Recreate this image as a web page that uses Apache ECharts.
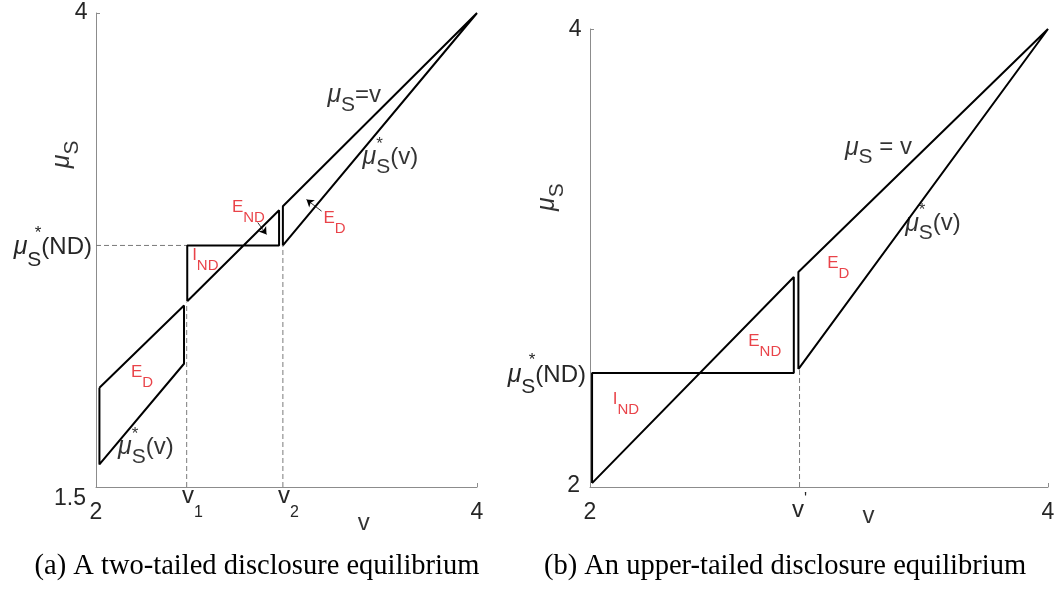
<!DOCTYPE html>
<html>
<head>
<meta charset="utf-8">
<script src="https://cdn.jsdelivr.net/npm/echarts@6/dist/echarts.min.js"></script>
<style>html,body{margin:0;padding:0;background:#fff}#c{width:1055px;height:594px}</style>
</head>
<body>
<div id="c"></div>
<script>
// ---------------- data (v, mu_S) ----------------
const leftXTicks = [2, 2.477, 2.981, 4];
const leftXTickLabels = ['2', 'v_1', 'v_2', '4'];
const leftYTicks = [1.5, 2.774, 4];
const leftYTickLabels = ['1.5', 'mu*_S(ND)', '4'];
const rightXTicks = [2, 2.915, 4];
const rightXTickLabels = ['2', "v'", '4'];
const rightYTicks = [2, 2.498, 4];
const rightYTickLabels = ['2', 'mu*_S(ND)', '4'];

// left panel (two-tailed)
const leftLowerRegion = [[2.018, 2.023], [2.462, 2.457], [2.462, 2.150], [2.018, 1.619], [2.018, 2.023]];
const leftMiddleRegion = [[2.479, 2.480], [2.479, 2.774], [2.961, 2.774], [2.961, 2.960], [2.479, 2.480]];
const leftUpperRegion = [[2.981, 2.774], [2.981, 2.981], [4, 4], [2.981, 2.774]];
const leftGuides = [
  [[2, 2.774], [2.479, 2.774]],
  [[2.476, 1.5], [2.476, 2.473]],
  [[2.981, 1.5], [2.981, 2.774]]
];
const leftArrows = [
  [[2.849, 2.895], [2.895, 2.832]],
  [[3.184, 2.955], [3.105, 3.016]]
];
// right panel (upper-tailed)
const rightLowerRegion = [[2.009, 2.017], [2.009, 2.498], [2.890, 2.498], [2.890, 2.917], [2.009, 2.017]];
const rightUpperRegion = [[2.910, 2.515], [2.910, 2.939], [4, 4], [2.910, 2.515]];
const rightGuides = [
  [[2.915, 2.0], [2.915, 2.515]]
];

// annotations: [text, v, mu]
const leftNotes = [['mu_S=v', 3.212, 3.565], ['mu*_S(v)', 3.396, 3.238], ['mu*_S(v)', 2.113, 1.711]];
const leftRedNotes = [['E_ND', 2.711, 2.977], ['E_D', 3.191, 2.916], ['I_ND', 2.502, 2.721], ['E_D', 2.181, 2.107]];
const rightNotes = [['mu_S = v', 3.111, 3.482], ['mu*_S(v)', 3.374, 3.150]];
const rightRedNotes = [['E_D', 3.034, 2.975], ['E_ND', 2.689, 2.636], ['I_ND', 2.097, 2.383]];
const leftXName = [['v', 3.406, 1.307]];
const leftYName = [['mu_S', 1.824, 3.254]];
const rightXName = [['v', 3.216, 1.870]];
const rightYName = [['mu_S', 1.813, 3.266]];

const captions = ['(a) A two-tailed disclosure equilibrium', '(b) An upper-tailed disclosure equilibrium'];

// ---------------- styling helpers ----------------
const SANS = '"Liberation Sans", Arial, sans-serif';
const AX = '#8c8c8c';
const TXT = '#262626';
const RED = '#e3141b';
const H = 80;
function tok(fs, dy, o) {
  o = o || {};
  const s = {
    fontFamily: SANS, fontSize: fs, height: fs, color: o.color || '#000',
    padding: [H / 2 + dy - fs / 2, o.pr || 0, H / 2 - dy - fs / 2, o.pl || 0]
  };
  if (o.italic) s.fontStyle = 'italic';
  if (o.w0) s.width = 0;
  return s;
}
function richify(s, P, starAfter) {
  let out = '';
  if (s.startsWith('mu')) {
    out += '{' + P + 'mu|\u03bc}';
    s = s.slice(2);
    let star = false;
    if (s[0] === '*') { star = true; s = s.slice(1); }
    if (s.startsWith('_S')) {
      if (star && !starAfter) out += '{' + P + 'star|*}';
      out += '{' + P + 'S|S}';
      if (star && starAfter) out += '{' + P + 'star|*}';
      s = s.slice(2);
    }
    if (s) out += '{' + P + 't|' + s + '}';
    return out;
  }
  const m = s.match(/^(.)_(.+)$/);
  if (m) return '{' + P + 'm|' + m[1] + '}{' + P + 's|' + m[2] + '}';
  if (s.endsWith("'")) return '{' + P + 'w|' + s.slice(0, -1) + "}{" + P + "p|'}";
  return '{' + P + 'n|' + s + '}';
}
function pick(val, ticks, labels) {
  let b = 0;
  for (let i = 1; i < ticks.length; i++) if (Math.abs(ticks[i] - val) < Math.abs(ticks[b] - val)) b = i;
  return labels[b];
}

const richX = {
  xn: tok(23, 25.5, {color: TXT}),
  xm: tok(24, 9.5, {color: TXT, pl: 11}),
  xs: tok(16, 25.5, {color: TXT}),
  xw: tok(24, 23, {color: TXT}),
  xp: tok(16, 12.5, {color: TXT})
};
function richY(P, bottomDy, topDy) {
  const r = {};
  r[P + 'n'] = tok(23, topDy, {color: TXT, pr: 5.5});
  r[P + 'b'] = tok(23, bottomDy, {color: TXT, pr: 7});
  r[P + 'mu'] = tok(25, 2, {color: TXT, italic: true});
  r[P + 'star'] = tok(17, -12.5, {color: TXT, w0: true});
  r[P + 'S'] = tok(21, 14.5, {color: TXT});
  r[P + 't'] = tok(24, 2, {color: TXT, pr: 1});
  return r;
}
const richNotes = {
  mmu: tok(25, 0, {italic: true}),
  mstar: tok(17, -13, {w0: true}),
  mS: tok(21, 10),
  mt: tok(24, 0),
  mn: tok(24, 0),
  rm: tok(17, 0, {color: RED}),
  rs: tok(15, 10.5, {color: RED})
};

function xAxisFor(gi, ticks, labels) {
  return {
    type: 'value', gridIndex: gi, min: 2, max: 4,
    axisLine: {show: true, lineStyle: {color: AX, width: 1}},
    splitLine: {show: false},
    axisTick: {show: true, inside: true, length: 4, lineStyle: {color: AX}, customValues: [4]},
    axisLabel: {
      show: true, margin: 0, verticalAlign: 'middle', showMinLabel: true, showMaxLabel: true,
      customValues: ticks,
      formatter: v => richify(pick(v, ticks, labels), 'x'),
      rich: richX
    }
  };
}
function yAxisFor(gi, min, ticks, labels, P, bottomDy, topDy) {
  return {
    type: 'value', gridIndex: gi, min: min, max: 4,
    axisLine: {show: true, lineStyle: {color: AX, width: 1}},
    splitLine: {show: false},
    axisTick: {show: true, inside: true, length: 4, lineStyle: {color: AX}, customValues: [4]},
    axisLabel: {
      show: true, margin: 3, showMinLabel: true, showMaxLabel: true,
      customValues: ticks,
      formatter: v => {
        const s = pick(v, ticks, labels);
        if (Math.abs(v - min) < 1e-9) return '{' + P + 'b|' + s + '}';
        return richify(s, P, true);
      },
      rich: richY(P, bottomDy, topDy)
    }
  };
}

function poly(gi, pts) {
  return {type: 'line', xAxisIndex: gi, yAxisIndex: gi, data: pts, symbol: 'none', clip: false, z: 4,
    lineStyle: {color: '#000', width: 2}, silent: true};
}
function guide(gi, pts) {
  return {type: 'line', xAxisIndex: gi, yAxisIndex: gi, data: pts, symbol: 'none', clip: false, z: 2,
    lineStyle: {color: '#7a7a7a', width: 1, type: [5, 3]}, silent: true};
}
function arrows(gi, list) {
  return {type: 'lines', coordinateSystem: 'cartesian2d', xAxisIndex: gi, yAxisIndex: gi, z: 5,
    symbol: ['none', 'arrow'], symbolSize: 7, silent: true,
    lineStyle: {color: '#000', width: 0.8, opacity: 1, curveness: 0},
    data: list.map(c => ({coords: c}))};
}
function notes(gi, list, P, position, rotate) {
  return {type: 'scatter', xAxisIndex: gi, yAxisIndex: gi, clip: false, symbolSize: 1, z: 10, silent: true,
    itemStyle: {color: 'rgba(0,0,0,0)'},
    data: list.map(n => ({value: [n[1], n[2]], name: n[0]})),
    label: {show: true, position: position, distance: 0, rotate: rotate || 0,
      formatter: p => richify(p.name, P, false), rich: richNotes}};
}

const series = [];
leftGuides.forEach(p => series.push(guide(0, p)));
rightGuides.forEach(p => series.push(guide(1, p)));
[leftLowerRegion, leftMiddleRegion, leftUpperRegion].forEach(p => series.push(poly(0, p)));
[rightLowerRegion, rightUpperRegion].forEach(p => series.push(poly(1, p)));
series.push(arrows(0, leftArrows));
series.push(notes(0, leftNotes, 'm', 'right'));
series.push(notes(0, leftRedNotes, 'r', 'right'));
series.push(notes(1, rightNotes, 'm', 'right'));
series.push(notes(1, rightRedNotes, 'r', 'right'));
series.push(notes(0, leftXName, 'm', 'inside'));
series.push(notes(1, rightXName, 'm', 'inside'));
series.push(notes(0, leftYName, 'm', 'inside', 90));
series.push(notes(1, rightYName, 'm', 'inside', 90));

const chart = echarts.init(document.getElementById('c'), null, {renderer: 'canvas'});
chart.setOption({
  animation: false,
  backgroundColor: '#fff',
  grid: [
    {left: 96, top: 13, width: 381, height: 474, containLabel: false, outerBoundsMode: 'none'},
    {left: 590, top: 29, width: 458, height: 458, containLabel: false, outerBoundsMode: 'none'}
  ],
  xAxis: [xAxisFor(0, leftXTicks, leftXTickLabels), xAxisFor(1, rightXTicks, rightXTickLabels)],
  yAxis: [yAxisFor(0, 1.5, leftYTicks, leftYTickLabels, 'y', 12, 0), yAxisFor(1, 2, rightYTicks, rightYTickLabels, 'z', -1, 1)],
  series: series,
  graphic: [
    {type: 'text', x: 257, y: 567, style: {text: captions[0], font: '28.5px "Liberation Serif", serif', fill: '#000', align: 'center', verticalAlign: 'middle'}},
    {type: 'text', x: 785, y: 567, style: {text: captions[1], font: '28.5px "Liberation Serif", serif', fill: '#000', align: 'center', verticalAlign: 'middle'}}
  ]
});
</script>
</body>
</html>
